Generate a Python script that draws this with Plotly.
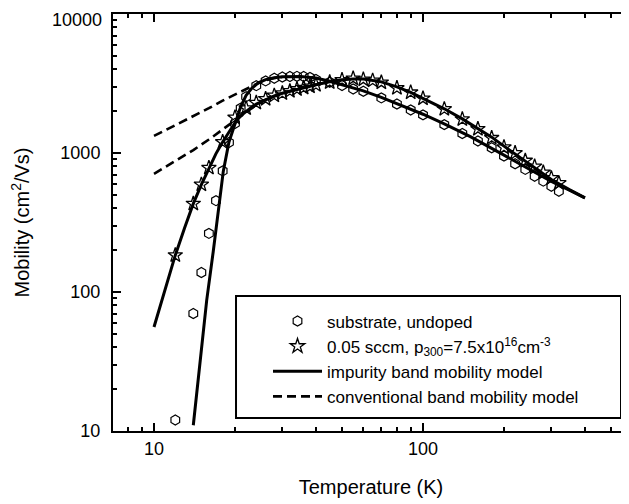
import plotly.graph_objects as go

# ---- measured data: substrate, undoped (hexagons) ----
sub_T = [12, 14, 15, 16, 17, 18, 19, 20, 21, 22, 24, 26, 28, 30, 32, 34, 36, 38, 40,
         45, 50, 55, 60, 70, 80, 90, 100, 120, 140, 160, 180, 200, 220, 240, 260, 280, 300, 320]
sub_mu = [12, 70, 138, 264, 454, 743, 1190, 1630, 2100, 2540, 3050, 3300, 3450, 3520, 3550, 3560, 3550, 3500, 3380,
          3230, 3060, 2890, 2780, 2490, 2250, 2040, 1880, 1600, 1380, 1220, 1090, 950, 836, 762, 681, 627, 577, 531]

# ---- measured data: 0.05 sccm (stars) ----
dop_T = [12, 14, 15, 16, 18, 20, 22, 24, 26, 28, 30, 32, 34, 36, 38, 40,
         45, 50, 55, 60, 65, 70, 80, 90, 100, 120, 140, 160, 180, 200, 220, 240, 260, 280, 300, 320]
dop_mu = [184, 432, 593, 782, 1200, 1800, 2100, 2300, 2450, 2590, 2690, 2790, 2880, 2950, 3010, 3080,
          3230, 3350, 3440, 3380, 3320, 3220, 2935, 2730, 2470, 2070, 1750, 1490, 1285, 1100, 1000, 881, 800, 725, 660, 608]

# ---- impurity band model curves (solid) ----
imp1_T = [14.0, 14.8, 15.7, 16.6, 17.3, 18.1, 19, 20, 21, 22, 23, 24.4, 26, 28, 30, 35, 40, 45, 50,
          60, 70, 80, 100, 120, 150, 200, 250, 300, 350, 400]
imp1_mu = [11, 31, 87, 195, 370, 740, 1200, 1650, 2150, 2600, 2900, 3200, 3370, 3480, 3530, 3555, 3460, 3280, 3100,
           2800, 2510, 2270, 1900, 1620, 1310, 965, 760, 625, 540, 475]

imp2_T = [10, 11, 12, 13, 14, 15, 16, 17, 18, 19, 20, 21, 22, 23, 24, 26, 28, 30, 35, 40, 45, 50, 55, 60,
          70, 80, 90, 100, 120, 140, 160, 180, 200, 250, 300, 350, 400]
imp2_mu = [56, 105, 184, 290, 432, 593, 782, 990, 1200, 1420, 1650, 1850, 2000, 2130, 2250, 2420, 2570, 2690,
           2920, 3100, 3250, 3360, 3410, 3400, 3250, 2990, 2730, 2480, 2080, 1760, 1500, 1300, 1120, 830, 645, 545, 475]

# ---- conventional band model curves (dashed) ----
conv1_T = [10, 12, 14, 16, 18, 20, 22, 24, 26, 28, 30]
conv1_mu = [1327, 1580, 1850, 2100, 2380, 2630, 2900, 3130, 3330, 3460, 3520]

conv2_T = [10, 12, 14, 16, 18, 20, 22, 24, 26, 28, 30, 35]
conv2_mu = [708, 880, 1050, 1250, 1480, 1700, 1960, 2220, 2420, 2570, 2690, 2920]

# ---- axis ticks ----
x_tickvals = [10, 100]
x_ticktext = ["10", "100"]
y_tickvals = [10, 100, 1000, 10000]
y_ticktext = ["10", "100", "1000", "10000"]
x_minor = [m * 10 ** e for e in range(0, 3) for m in range(2, 10)]
y_minor = [m * 10 ** e for e in range(1, 4) for m in range(2, 10)]

FONT = "Arial, Liberation Sans, Helvetica, sans-serif"

fig = go.Figure()

fig.add_trace(go.Scatter(x=conv1_T, y=conv1_mu, mode="lines",
                         line=dict(color="black", width=2.6, dash="9px,5px"),
                         name="conventional band mobility model", legendrank=4))
fig.add_trace(go.Scatter(x=conv2_T, y=conv2_mu, mode="lines",
                         line=dict(color="black", width=2.6, dash="9px,5px"),
                         showlegend=False))
fig.add_trace(go.Scatter(x=imp1_T, y=imp1_mu, mode="lines",
                         line=dict(color="black", width=3),
                         name="impurity band mobility model", legendrank=3))
fig.add_trace(go.Scatter(x=imp2_T, y=imp2_mu, mode="lines",
                         line=dict(color="black", width=3),
                         showlegend=False))
fig.add_trace(go.Scatter(x=sub_T, y=sub_mu, mode="markers",
                         marker=dict(symbol="hexagon-open", size=10, color="black", line=dict(width=1.2)),
                         name="substrate, undoped", legendrank=1))
fig.add_trace(go.Scatter(x=dop_T, y=dop_mu, mode="markers",
                         marker=dict(symbol="star-open", size=11, color="black", line=dict(width=1.3)),
                         name="0.05 sccm, p<sub>300</sub>=7.5x10<sup>16</sup>cm<sup>-3</sup>", legendrank=2))

axis_common = dict(
    type="log", showline=True, linecolor="black", linewidth=2,
    ticks="inside", ticklen=8, tickwidth=2, tickcolor="black",
    showgrid=False, zeroline=False, automargin=False,
    tickfont=dict(family=FONT, size=18, color="black"),
)

# top label of the y axis is drawn as an annotation so it stays inside the page
y_ticktext_axis = y_ticktext[:-1] + [""]

fig.update_layout(
    width=621, height=496,
    margin=dict(l=105, r=0, t=6, b=73, pad=0, autoexpand=False),
    paper_bgcolor="white", plot_bgcolor="white",
    font=dict(family=FONT, color="black"),
    xaxis=dict(**axis_common, range=[0.8476, 2.7658], mirror="ticks",
               tickmode="array", tickvals=x_tickvals, ticktext=x_ticktext,
               minor=dict(tickvals=x_minor, ticks="inside", ticklen=4, tickwidth=1.5, tickcolor="black", showgrid=False),
               title=dict(text="Temperature (K)", font=dict(family=FONT, size=20), standoff=22)),
    yaxis=dict(**axis_common, range=[1, 4], mirror=False, ticklabelstandoff=7,
               tickmode="array", tickvals=y_tickvals, ticktext=y_ticktext_axis,
               minor=dict(tickvals=y_minor, ticks="inside", ticklen=4, tickwidth=1.5, tickcolor="black", showgrid=False),
               title=dict(text="Mobility (cm<sup>2</sup>/Vs)", font=dict(family=FONT, size=20), standoff=28)),
    yaxis2=dict(type="log", range=[1, 4], overlaying="y", side="right", showline=False, automargin=False,
                ticks="inside", ticklen=8, tickwidth=2, tickcolor="black",
                tickmode="array", tickvals=y_tickvals, showticklabels=False, showgrid=False, zeroline=False,
                minor=dict(tickvals=y_minor, ticks="inside", ticklen=4, tickwidth=1.5, tickcolor="black", showgrid=False)),
    legend=dict(x=0.3004, y=0.3058, xanchor="left", yanchor="top",
                bgcolor="rgba(0,0,0,0)", borderwidth=0, itemwidth=49,
                font=dict(family=FONT, size=17, color="black"), traceorder="normal"),
    shapes=[dict(type="rect", xref="paper", yref="paper",
                 x0=0.2384, x1=0.9845, y0=0.0312, y1=0.3237,
                 line=dict(color="black", width=2), fillcolor="rgba(0,0,0,0)", layer="above")],
    annotations=[dict(text=y_ticktext[-1], xref="paper", x=0, xanchor="right", xshift=-10,
                      yref="paper", y=1, yanchor="top", yshift=5.5, borderpad=0,
                      showarrow=False, font=dict(family=FONT, size=18, color="black"))],
)

fig.write_html("out.html")
